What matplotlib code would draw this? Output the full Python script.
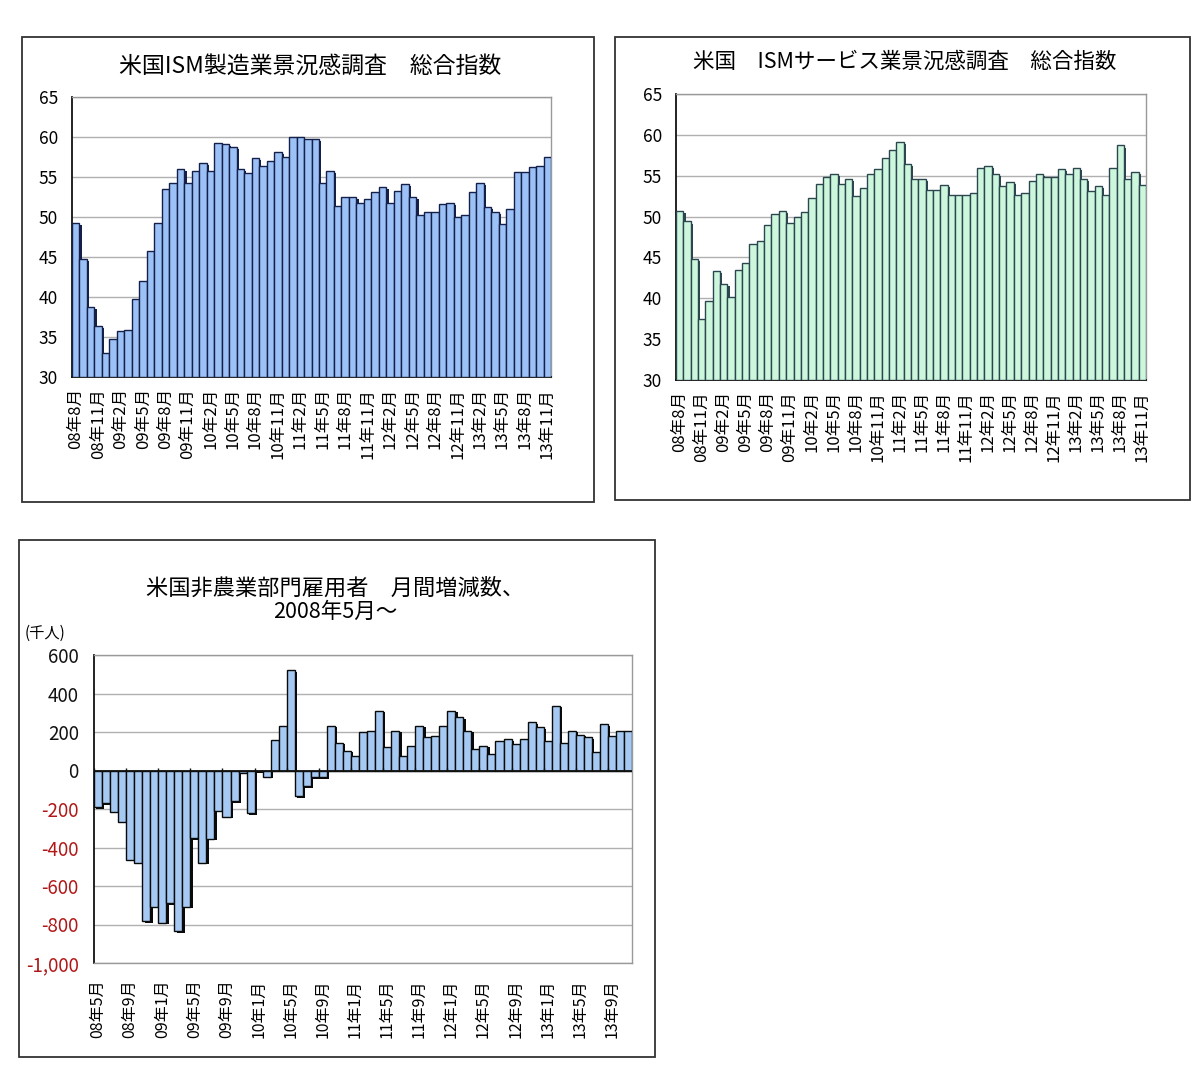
import numpy as np
import matplotlib
matplotlib.use("Agg")
import matplotlib.pyplot as plt
from matplotlib.patches import Rectangle

plt.rcParams['font.family'] = ['Noto Sans CJK JP', 'DejaVu Sans']

# ISM manufacturing, 2008/8 - 2013/11
ism_mfg = [49.3, 44.8, 38.7, 36.4, 33.0, 34.8, 35.7, 35.9, 39.8, 42.0, 45.7, 49.3,
           53.5, 54.3, 56.0, 54.3, 55.8, 56.8, 55.8, 59.3, 59.1, 58.7, 56.0, 55.5,
           57.4, 56.4, 57.0, 58.1, 57.5, 60.0, 60.0, 59.8, 59.8, 54.3, 55.8, 51.4,
           52.5, 52.5, 51.8, 52.3, 53.1, 53.7, 51.8, 53.3, 54.1, 52.5, 50.2, 50.6,
           50.6, 51.6, 51.8, 50.0, 50.2, 53.1, 54.3, 51.2, 50.6, 49.1, 51.0, 55.6,
           55.6, 56.2, 56.4, 57.5]

# ISM services, 2008/8 - 2013/11
ism_svc = [50.7, 49.4, 44.8, 37.5, 39.7, 43.3, 41.7, 40.2, 43.5, 44.3, 46.6, 47.0,
           49.0, 50.3, 50.7, 49.2, 49.9, 50.5, 52.3, 54.0, 54.8, 55.2, 54.0, 54.6,
           52.5, 53.5, 55.2, 55.8, 57.2, 58.2, 59.1, 56.4, 54.6, 54.6, 53.3, 53.3,
           53.9, 52.7, 52.7, 52.7, 52.9, 56.0, 56.2, 55.2, 53.7, 54.2, 52.7, 52.9,
           54.4, 55.2, 54.8, 54.8, 55.8, 55.2, 56.0, 54.6, 53.1, 53.7, 52.7, 56.0,
           58.7, 54.6, 55.4, 53.9]

# nonfarm payrolls change (thousands), 2008/5 - 2013/11
nfp = [-190, -170, -213, -265, -464, -478, -782, -707, -790, -690, -834, -707,
       -352, -478, -355, -210, -240, -161, -12, -222, -5, -33, 160, 232,
       520, -135, -83, -36, -36, 232, 145, 102, 76, 198, 206, 310,
       120, 206, 76, 128, 232, 172, 180, 232, 310, 276, 206, 111,
       128, 85, 154, 163, 137, 163, 250, 224, 154, 336, 145, 206,
       185, 172, 94, 241, 180, 206, 206]

ism_labels = ['08年8月', '08年11月', '09年2月', '09年5月', '09年8月', '09年11月',
              '10年2月', '10年5月', '10年8月', '10年11月', '11年2月', '11年5月',
              '11年8月', '11年11月', '12年2月', '12年5月', '12年8月', '12年11月',
              '13年2月', '13年5月', '13年8月', '13年11月']
nfp_labels = ['08年5月', '08年9月', '09年1月', '09年5月', '09年9月', '10年1月',
              '10年5月', '10年9月', '11年1月', '11年5月', '11年9月', '12年1月',
              '12年5月', '12年9月', '13年1月', '13年5月', '13年9月']

W, H = 1200, 1081
fig = plt.figure(figsize=(W / 100, H / 100), dpi=100)


def frame(x0, y0, x1, y1):
    fig.add_artist(Rectangle((x0 / W, 1 - y1 / H), (x1 - x0) / W, (y1 - y0) / H,
                             transform=fig.transFigure, fill=False,
                             ec='#333333', lw=1.3))


def px_axes(x0, y0, x1, y1):
    return fig.add_axes([x0 / W, 1 - y1 / H, (x1 - x0) / W, (y1 - y0) / H])


def style(ax):
    for s in ['top', 'right']:
        ax.spines[s].set_color('#999999')
        ax.spines[s].set_linewidth(1.0)
    for s in ['left', 'bottom']:
        ax.spines[s].set_color('#111111')
        ax.spines[s].set_linewidth(1.3)
    ax.yaxis.grid(True, color='#b0b0b0', lw=1.0)
    ax.set_axisbelow(True)
    ax.tick_params(axis='y', length=0, pad=10)
    ax.tick_params(axis='x', length=0, pad=8)


def bars(ax, vals, fill, edge, base, shift):
    x = np.arange(len(vals))
    v = np.array(vals)
    # shadow
    ax.bar(x + 0.3, v - base, bottom=base - shift, width=1.0, color=edge, lw=0, zorder=2)
    ax.bar(x, v - base, bottom=base, width=1.0, color=fill, edgecolor=edge, lw=1.0, zorder=3)
    ax.set_xlim(-0.5, len(vals) - 0.5)
    return x


# chart 1
frame(22, 37, 594, 502)
ax1 = px_axes(72, 97, 551, 377)
x = bars(ax1, ism_mfg, '#9cc1f6', '#14204a', 30, 0.25)
ax1.set_ylim(30, 65)
ax1.set_yticks(range(30, 66, 5))
ax1.set_xticks(x[::3])
ax1.set_xticklabels(ism_labels, rotation=90, fontsize=12)
style(ax1)
ax1.tick_params(axis='y', labelsize=12.5)
fig.text(310 / W, 1 - 66 / H, '米国ISM製造業景況感調査　総合指数', ha='center', va='center', fontsize=16.5)

# chart 2
frame(615, 37, 1190, 500)
ax2 = px_axes(676, 94, 1146, 380)
x = bars(ax2, ism_svc, '#cdf7dc', '#2c4650', 30, 0.25)
ax2.set_ylim(30, 65)
ax2.set_yticks(range(30, 66, 5))
ax2.set_xticks(x[::3])
ax2.set_xticklabels(ism_labels, rotation=90, fontsize=12)
style(ax2)
ax2.tick_params(axis='y', labelsize=12.5)
fig.text(905 / W, 1 - 62 / H, '米国　ISMサービス業景況感調査　総合指数', ha='center', va='center', fontsize=15.5)

# chart 3
frame(19, 540, 655, 1057)
ax3 = px_axes(94, 655, 632, 963)
x = bars(ax3, nfp, '#a5c9f2', '#0a0a0a', 0, 8)
ax3.set_ylim(-1000, 600)
yt = list(range(-1000, 601, 200))
ax3.set_yticks(yt)
ax3.set_yticklabels([f'{t:,}' for t in yt])
ax3.set_xticks(x[::4])
ax3.set_xticklabels(nfp_labels, rotation=90, fontsize=11.5)
style(ax3)
ax3.tick_params(axis='y', labelsize=13.5, pad=11)
ax3.tick_params(axis='x', pad=12)
ax3.spines['bottom'].set_color('#999999')
ax3.spines['bottom'].set_linewidth(1.0)
ax3.axhline(0, color='#111111', lw=1.3, zorder=4)
ax3.vlines(x[::4] - 0.5, 0, 14, color='#111111', lw=1.0, zorder=4)
for t, lab in zip(yt, ax3.get_yticklabels()):
    lab.set_color('#b01818' if t < 0 else '#111111')
fig.text(335 / W, 1 - 588 / H, '米国非農業部門雇用者　月間増減数、', ha='center', va='center', fontsize=16)
fig.text(335 / W, 1 - 612 / H, '2008年5月～', ha='center', va='center', fontsize=15.5)
fig.text(25 / W, 1 - 633 / H, '(千人)', ha='left', va='center', fontsize=11)

fig.savefig('out.png', dpi=100, facecolor='white')
